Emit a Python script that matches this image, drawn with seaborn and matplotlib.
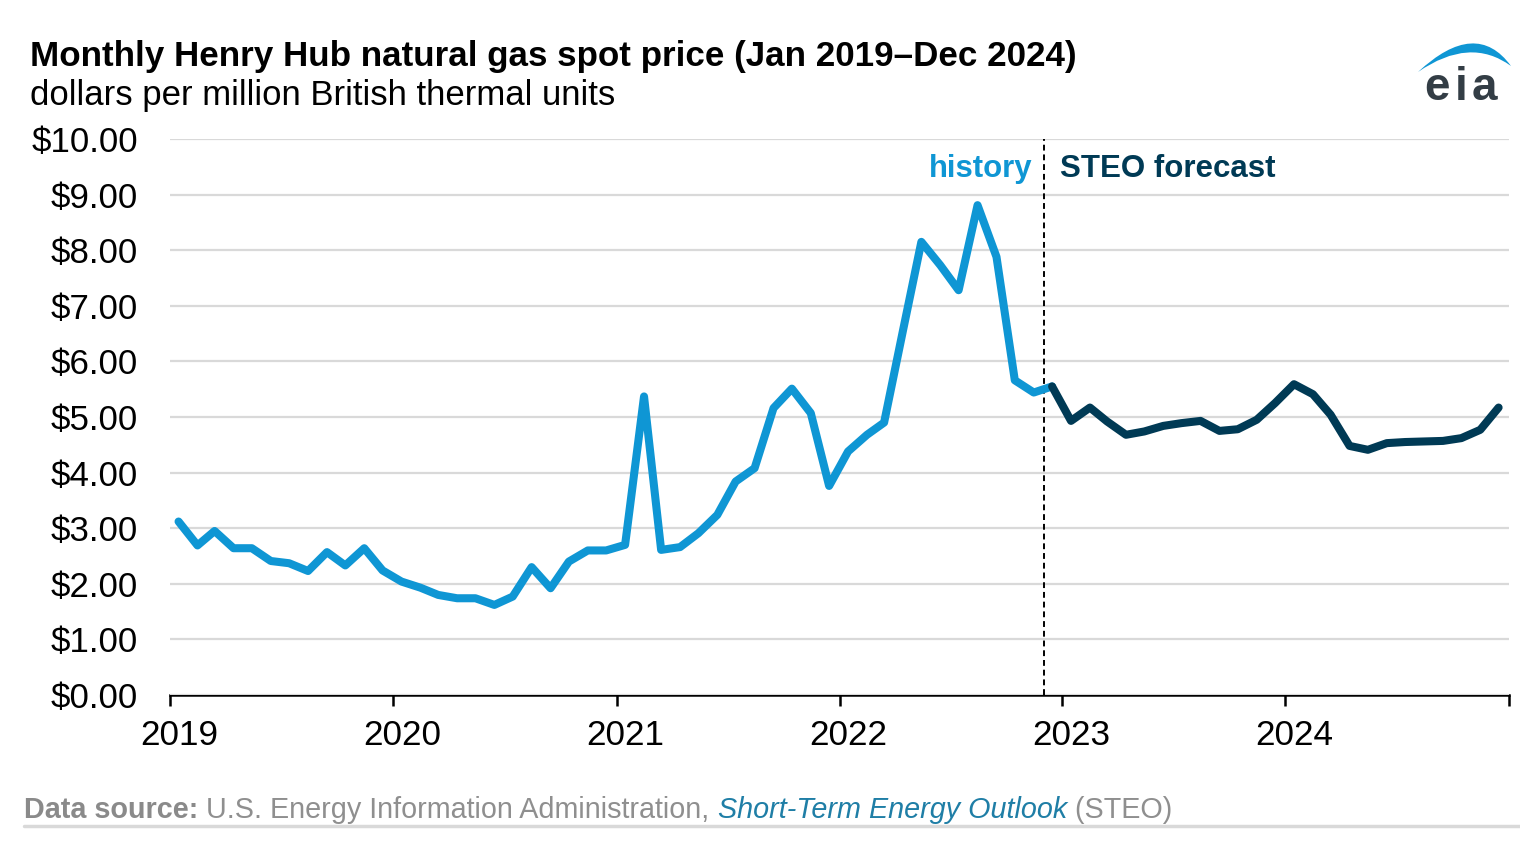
"""Monthly Henry Hub natural gas spot price, history and STEO forecast."""

import matplotlib
matplotlib.use("Agg")
import matplotlib.pyplot as plt
import matplotlib.transforms as mtransforms
from matplotlib.patches import PathPatch
from matplotlib.path import Path
import pandas as pd
import seaborn as sns

# ---- data (dollars per MMBtu) ----
history_prices = [
    3.12, 2.69, 2.95, 2.64, 2.64, 2.41, 2.37, 2.23, 2.57, 2.33, 2.64, 2.24,  # 2019
    2.04, 1.93, 1.80, 1.74, 1.74, 1.62, 1.77, 2.30, 1.92, 2.40, 2.60, 2.60,  # 2020
    2.70, 5.37, 2.61, 2.66, 2.91, 3.24, 3.84, 4.08, 5.16, 5.51, 5.07, 3.76,  # 2021
    4.38, 4.68, 4.90, 6.56, 8.15, 7.73, 7.28, 8.81, 7.88, 5.66, 5.44, 5.55,  # 2022
]
forecast_prices = [
    5.55,                                                                    # Dec 2022
    4.93, 5.17, 4.92, 4.68, 4.74, 4.84, 4.89, 4.93, 4.75, 4.78, 4.95, 5.25,  # 2023
    5.59, 5.41, 5.04, 4.48, 4.41, 4.53, 4.55, 4.56, 4.57, 4.62, 4.77, 5.17,  # 2024
]
history_months = pd.date_range("2019-01-01", "2022-12-01", freq="MS")
forecast_months = pd.date_range("2022-12-01", "2024-12-01", freq="MS")
year_ticks = pd.date_range("2019-01-01", "2025-01-01", freq="YS")
year_labels = ["2019", "2020", "2021", "2022", "2023", "2024", ""]
y_ticks = list(range(0, 11))
forecast_start = pd.Timestamp("2022-12-01")

# points sit mid-month
hist_df = pd.DataFrame({"date": history_months + pd.Timedelta(days=14), "price": history_prices})
fcst_df = pd.DataFrame({"date": forecast_months + pd.Timedelta(days=14), "price": forecast_prices})

LIGHT_BLUE = "#0f96d4"
DARK_BLUE = "#003a55"
GRID = "#d9d9d9"
GRAY = "#8f8f8f"

sns.set_theme(style="white")
plt.rcParams["font.family"] = ["Liberation Sans", "DejaVu Sans"]

W, H = 1520, 846
fig = plt.figure(figsize=(W / 100, H / 100), dpi=100)
ax = fig.add_axes([170 / W, 1 - 695 / H, (1509 - 170) / W, (695 - 139) / H])


def px(x, y):
    return x / W, 1 - y / H


sns.lineplot(data=hist_df, x="date", y="price", color=LIGHT_BLUE, linewidth=5.8, ax=ax)
sns.lineplot(data=fcst_df, x="date", y="price", color=DARK_BLUE, linewidth=5.8, ax=ax)
ax.axvline(forecast_start, color="black", linestyle=(0, (3, 2)), linewidth=1.4, zorder=1)

ax.set_xlim(year_ticks[0], year_ticks[-1])
ax.set_ylim(0, 10)
ax.set_xticks(year_ticks)
ax.set_xticklabels(year_labels)
ax.set_yticks(y_ticks)
ax.set_yticklabels([f"${v:.2f}" for v in y_ticks])
ax.set_xlabel("")
ax.set_ylabel("")

ax.grid(axis="y", color=GRID, linewidth=1.6)
ax.grid(axis="x", visible=False)
ax.set_axisbelow(True)
for side in ["top", "right", "left"]:
    ax.spines[side].set_visible(False)
ax.spines["bottom"].set_color("black")
ax.spines["bottom"].set_linewidth(1.8)
ax.spines["bottom"].set_zorder(0.5)
ax.tick_params(axis="x", bottom=True, length=8, width=1.8, color="black",
               labelsize=25.3, pad=9, labelcolor="black")
ax.tick_params(axis="y", left=False, length=0, labelsize=25.1, pad=23, labelcolor="black")

# year labels sit a little right of their ticks in the original
shift = mtransforms.ScaledTranslation(9 / 100, 0, fig.dpi_scale_trans)
for lbl in ax.get_xticklabels():
    lbl.set_transform(lbl.get_transform() + shift)

# titles
fig.text(*px(30, 66), "Monthly Henry Hub natural gas spot price (Jan 2019\u2013Dec 2024)",
         fontsize=25.2, fontweight="bold", color="black", ha="left", va="baseline")
fig.text(*px(30, 105), "dollars per million British thermal units",
         fontsize=25.0, color="black", ha="left", va="baseline")

# history / forecast labels
fig.text(*px(1032, 177), "history", fontsize=22.4, fontweight="bold",
         color=LIGHT_BLUE, ha="right", va="baseline")
fig.text(*px(1060, 177), "STEO forecast", fontsize=22.5, fontweight="bold",
         color=DARK_BLUE, ha="left", va="baseline")

# footer, pieces laid out left to right
fig.canvas.draw()
renderer = fig.canvas.get_renderer()
x_pos = 24
pieces = [
    ("Data source:", {"fontweight": "bold", "color": "#8a8a8a"}),
    (" U.S. Energy Information Administration, ", {"color": GRAY}),
    ("Short-Term Energy Outlook", {"style": "italic", "color": "#1f7ea6"}),
    (" (STEO)", {"color": GRAY}),
]
for txt, kw in pieces:
    t = fig.text(*px(x_pos, 818), txt, fontsize=20.7, ha="left", va="baseline", **kw)
    bb = t.get_window_extent(renderer=renderer)
    x_pos += bb.width
fig.add_artist(plt.Line2D([24 / W, 1.0], [1 - 826 / H] * 2, color="#d9d9d9", linewidth=2.5))

# eia logo
arc_verts = [(1418, 72), (1476, 18), (1511, 66), (1470, 36), (1418, 72)]
arc_codes = [Path.MOVETO, Path.CURVE3, Path.CURVE3, Path.CURVE3, Path.CURVE3]
arc = Path([px(x, y) for x, y in arc_verts], arc_codes)
fig.add_artist(PathPatch(arc, facecolor=LIGHT_BLUE, edgecolor="none", transform=fig.transFigure))
for letter, lx in zip(["e", "i", "a"], [1437, 1461, 1484]):
    fig.text(*px(lx, 100), letter, fontsize=33, fontweight="bold", color="#333d45",
             ha="center", va="baseline")

fig.savefig("out.png", dpi=100)
